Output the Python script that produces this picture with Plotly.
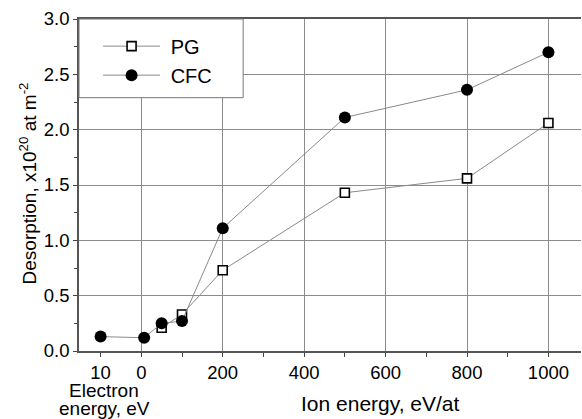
import plotly.graph_objects as go

# Data
cfc_x = [-100, 7, 50, 100, 200, 500, 800, 1000]
cfc_y = [0.13, 0.12, 0.25, 0.27, 1.11, 2.11, 2.36, 2.70]
pg_x = [50, 100, 200, 500, 800, 1000]
pg_y = [0.21, 0.33, 0.73, 1.43, 1.56, 2.06]

x_tickvals = [-100, 0, 100, 200, 300, 400, 500, 600, 700, 800, 900, 1000]
x_ticktext = ["10", "0", "", "200", "", "400", "", "600", "", "800", "", "1000"]
x_gridvals = [0, 200, 400, 600, 800, 1000]
y_tickvals = [0, 0.5, 1.0, 1.5, 2.0, 2.5, 3.0]
y_ticktext = ["0.0", "0.5", "1.0", "1.5", "2.0", "2.5", "3.0"]

FONT = "Liberation Sans, Arial, sans-serif"
LINE_GRAY = "#8a8a8a"
GRID = "#8c8c8c"

fig = go.Figure()
fig.add_trace(go.Scatter(
    x=pg_x, y=pg_y, name="\u00a0PG", mode="lines+markers",
    line=dict(color=LINE_GRAY, width=1),
    marker=dict(symbol="square", size=9, color="white", line=dict(color="black", width=1.6)),
))
fig.add_trace(go.Scatter(
    x=cfc_x, y=cfc_y, name="\u00a0CFC", mode="lines+markers",
    line=dict(color=LINE_GRAY, width=1),
    marker=dict(symbol="circle", size=12, color="black", line=dict(width=0)),
))

fig.update_layout(
    width=582, height=419,
    margin=dict(l=79, r=1, t=19, b=68, autoexpand=False),
    paper_bgcolor="white", plot_bgcolor="white",
    font=dict(family=FONT, size=18, color="black"),
    showlegend=True,
    legend=dict(
        x=0.038, y=0.977, xanchor="left", yanchor="top",
        bgcolor="rgba(0,0,0,0)", borderwidth=0,
        font=dict(size=20, family=FONT), itemwidth=57,
    ),
    shapes=[dict(
        type="rect", xref="paper", yref="paper",
        x0=0, x1=0.327, y0=0.763, y1=1,
        line=dict(color="#777", width=1), fillcolor="white", layer="above",
    )],
)

fig.update_xaxes(
    range=[-153, 1080], automargin=False,
    tickmode="array", tickvals=x_tickvals, ticktext=x_ticktext,
    ticks="outside", ticklen=4, tickwidth=1, tickcolor="#444",
    showgrid=False, zeroline=False,
    showline=True, linecolor="#555", linewidth=1.5, mirror=True,
    tickfont=dict(size=18.5),
    minor=dict(tickmode="array", tickvals=x_gridvals, showgrid=True,
               gridcolor=GRID, gridwidth=1, ticks=""),
)
fig.update_yaxes(
    range=[0, 3], automargin=False,
    tickmode="array", tickvals=y_tickvals, ticktext=y_ticktext,
    ticks="outside", ticklen=4, tickwidth=1, tickcolor="#444",
    showgrid=True, gridcolor=GRID, gridwidth=1, zeroline=False,
    showline=True, linecolor="#555", linewidth=1.5, mirror=False,
    tickfont=dict(size=18.5),
    minor=dict(dtick=0.25, ticks="outside", ticklen=3, tickcolor="#444", showgrid=False),
)

fig.add_annotation(text="Desorption, x10<sup>20</sup> at m<sup>-2</sup>", textangle=-90,
                   xref="paper", yref="paper", x=-0.102, y=0.504,
                   xanchor="center", yanchor="middle", showarrow=False,
                   font=dict(size=19, family=FONT))
fig.add_annotation(text="Electron", xref="x", yref="paper",
                   x=-91, y=-0.119, xanchor="center", yanchor="middle",
                   showarrow=False, font=dict(size=19, family=FONT))
fig.add_annotation(text="energy, eV", xref="x", yref="paper",
                   x=-91, y=-0.1727, xanchor="center", yanchor="middle",
                   showarrow=False, font=dict(size=19, family=FONT))
fig.add_annotation(text="Ion energy, eV/at", xref="paper", yref="paper",
                   x=0.6, y=-0.158, xanchor="center", yanchor="middle",
                   showarrow=False, font=dict(size=21, family=FONT))

fig.write_html("out.html", post_script="document.body.style.margin='0';",
               config={"displayModeBar": False})
